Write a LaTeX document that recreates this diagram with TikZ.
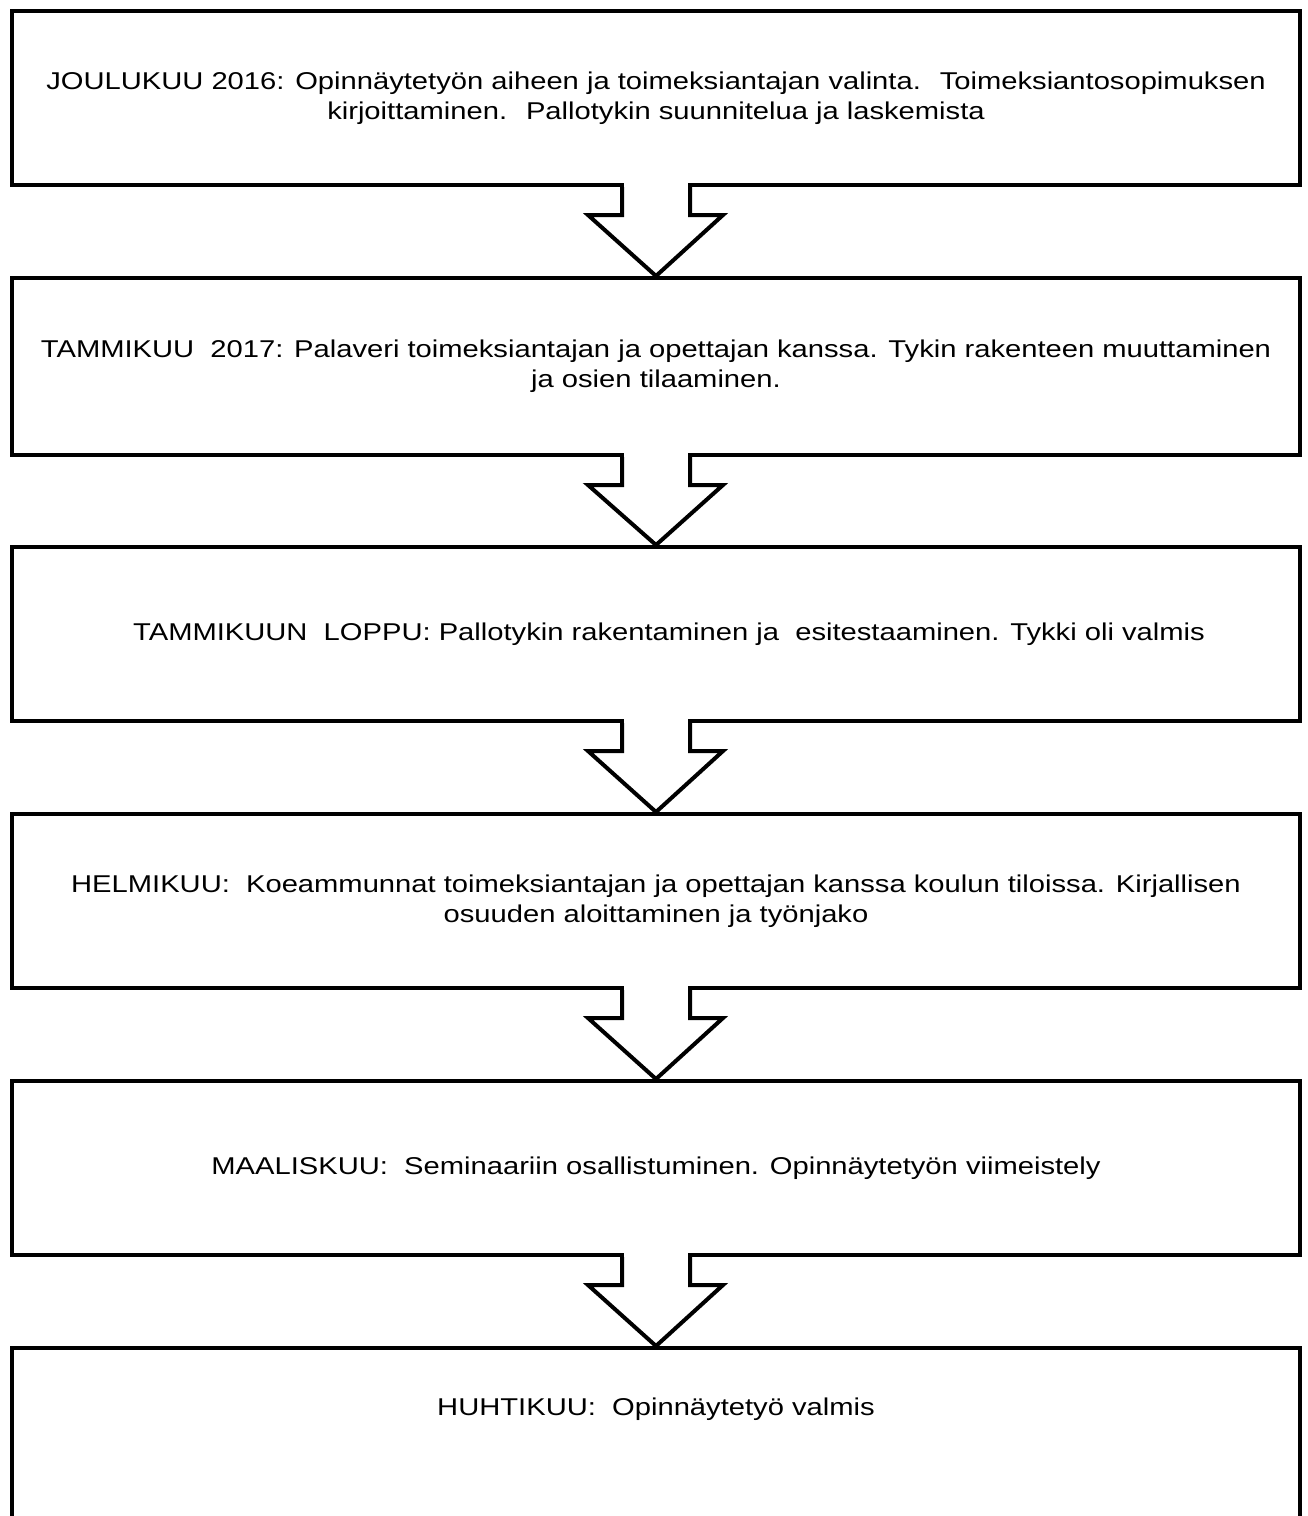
\documentclass[tikz,border=0pt]{standalone}
\usepackage{fontspec}
\setmainfont[FakeStretch=1.2]{Liberation Sans}
\usetikzlibrary{calc}
\tikzset{
  box/.style={draw=black, line width=4pt, fill=white, rectangle, minimum width=1288pt, inner sep=0pt, align=center, font=\fontsize{24.3}{30}\selectfont},
  txt/.style={inner sep=0pt, align=center, font=\fontsize{24.3}{30}\selectfont},
  blockarrow/.style={draw=black, line width=4pt, line join=miter},
}
\newcommand{\downarrowblock}[2]{%
  \fill[white] ($(#1.south)+(-32,-5)$) rectangle ($(#1.south)+(32,4)$);
  \draw[blockarrow] ($(#1.south)+(-34,0)$) -- ++(0,28) -- ++(-34,0) -- (#2.north) -- ($(#1.south)+(67,28)$) -- ++(-33,0) -- ($(#1.south)+(34,0)$);
}
\begin{document}
\begin{tikzpicture}[x=1pt, y=-1pt]
\useasboundingbox[fill=white] (0,0) rectangle (1308,1516);
\node[box, minimum height=174pt] (b1) at (656,98) {JOULUKUU 2016: Opinnäytetyön aiheen ja toimeksiantajan valinta.~ Toimeksiantosopimuksen\\kirjoittaminen.~ Pallotykin suunnitelua ja laskemista};
\node[box, minimum height=177pt] (b2) at (656,366.5) {TAMMIKUU~ 2017: Palaveri toimeksiantajan ja opettajan kanssa. Tykin rakenteen muuttaminen\\ja osien tilaaminen.};
\node[box, minimum height=174pt] (b3) at (656,634) {\hspace*{26pt}TAMMIKUUN~ LOPPU: Pallotykin rakentaminen ja~ esitestaaminen. Tykki oli valmis};
\node[box, minimum height=174pt] (b4) at (656,901) {HELMIKUU:~ Koeammunnat toimeksiantajan ja opettajan kanssa koulun tiloissa. Kirjallisen\\osuuden aloittaminen ja työnjako};
\node[box, minimum height=174pt] (b5) at (656,1168) {MAALISKUU:~ Seminaariin osallistuminen. Opinnäytetyön viimeistely};
\node[box, minimum height=175pt] (b6) at (656,1435.5) {};
\node[txt] (t6) at ($(b6.north)+(0,63)$) {HUHTIKUU:~ Opinnäytetyö valmis};
\downarrowblock{b1}{b2}
\downarrowblock{b2}{b3}
\downarrowblock{b3}{b4}
\downarrowblock{b4}{b5}
\downarrowblock{b5}{b6}
\end{tikzpicture}
\end{document}
